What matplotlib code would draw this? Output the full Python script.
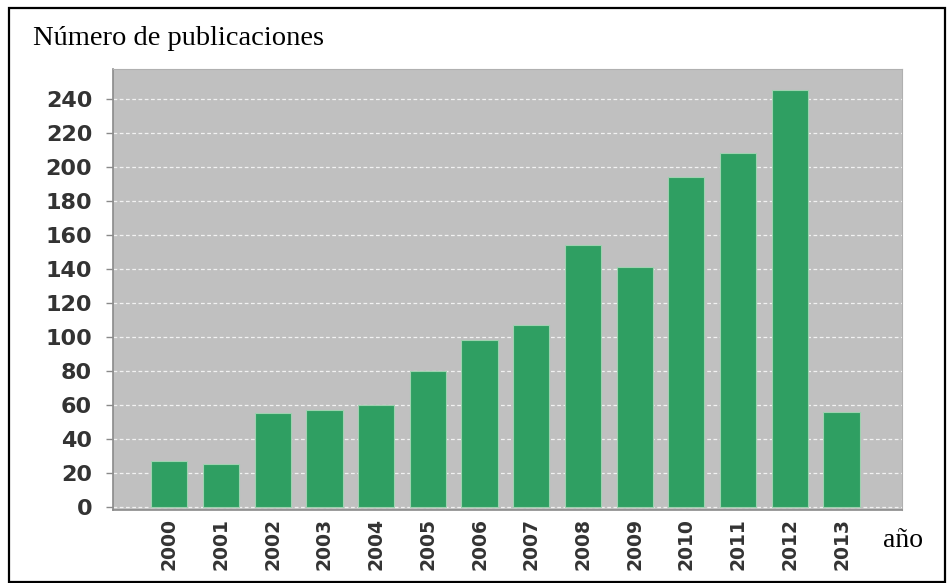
import matplotlib.pyplot as plt
from matplotlib.patches import Rectangle

# Publicaciones por año
years = ['2000', '2001', '2002', '2003', '2004', '2005', '2006',
         '2007', '2008', '2009', '2010', '2011', '2012', '2013']
pubs = [27, 25, 55, 57, 60, 80, 98, 107, 154, 141, 194, 208, 245, 56]
yticks = list(range(0, 241, 20))

W, H = 947, 583
fig = plt.figure(figsize=(W / 100, H / 100), dpi=100)
fig.patch.set_facecolor('white')

# plot area in pixel coordinates
left, right, top, bottom = 113, 902, 69, 510
ax = fig.add_axes([left / W, 1 - bottom / H, (right - left) / W, (bottom - top) / H])
ax.set_facecolor('#c0c0c0')

x = list(range(len(years)))
ax.bar(x, pubs, width=0.70, color='#2f9f62', edgecolor='#9fd2b0', linewidth=0.8, zorder=3)

ax.set_xlim(-1.09, 14.17)
ax.set_ylim(-1.8, 257.6)
ax.set_yticks(yticks)
ax.set_yticklabels([str(v) for v in yticks], fontsize=16, fontweight='bold', color='#333333')
ax.set_xticks(x)
ax.set_xticklabels(years, rotation=90, fontsize=13.5, fontweight='bold', color='#333333')
ax.tick_params(axis='y', length=5, width=1, color='#8a8a8a', pad=10)
ax.tick_params(axis='x', length=0, pad=6)

ax.grid(axis='y', color='white', linestyle=(0, (3, 2)), linewidth=0.9, alpha=0.8, zorder=1)
ax.set_axisbelow(True)

for side in ['top', 'right']:
    ax.spines[side].set_color('#b0b0b0')
for side in ['left', 'bottom']:
    ax.spines[side].set_color('#8a8a8a')
    ax.spines[side].set_linewidth(1.2)

# title and axis name in serif
fig.text(33 / W, 1 - 45 / H, 'Número de publicaciones', fontsize=20.5,
         family='Liberation Serif', va='baseline', ha='left')
fig.text(883 / W, 1 - 547 / H, 'año', fontsize=20,
         family='Liberation Serif', va='baseline', ha='left')

# black frame around the whole figure
fig.patches.append(Rectangle((9 / W, 1 - 582 / H), (945 - 9) / W, (582 - 8) / H,
                             transform=fig.transFigure, fill=False,
                             edgecolor='black', linewidth=1.6))

fig.savefig('out.png', dpi=100)
